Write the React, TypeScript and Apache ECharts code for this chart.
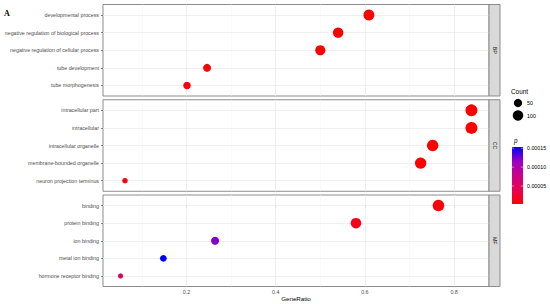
import React, { useEffect, useRef } from "react";
import * as echarts from "echarts";

// ---------- data ----------
const PANELS = ["BP", "CC", "MF"];

const BP_TERMS = [
  "developmental process",
  "negative regulation of biological process",
  "negative regulation of cellular process",
  "tube development",
  "tube morphogenesis",
];
const BP_RATIO = [0.609, 0.54, 0.5, 0.246, 0.201];
const BP_COUNT = [110, 97, 90, 44, 36];
const BP_P = [0.000003, 0.000003, 0.000003, 0.000004, 0.000005];

const CC_TERMS = [
  "intracellular part",
  "intracellular",
  "intracellular organelle",
  "membrane-bounded organelle",
  "neuron projection terminus",
];
const CC_RATIO = [0.839, 0.839, 0.752, 0.725, 0.062];
const CC_COUNT = [143, 143, 128, 123, 11];
const CC_P = [0.0000026, 0.0000026, 0.000003, 0.000003, 0.000008];

const MF_TERMS = [
  "binding",
  "protein binding",
  "ion binding",
  "metal ion binding",
  "hormone receptor binding",
];
const MF_RATIO = [0.765, 0.58, 0.264, 0.148, 0.052];
const MF_COUNT = [130, 99, 45, 25, 9];
const MF_P = [0.000005, 0.000015, 0.00012, 0.000153, 0.00005];

const X_TICKS = [0.2, 0.4, 0.6, 0.8];
const X_MINOR = [0.1, 0.3, 0.5, 0.7];
const COUNT_LEGEND = [50, 100];
const P_TICKS = [0.00005, 0.0001, 0.00015];
const P_TICK_LABELS = ["0.00005", "0.00010", "0.00015"];

// ---------- styling ----------
const FONT = "'Liberation Sans', Arial, Helvetica, sans-serif";
const PALETTE = ["#FF0000", "#E8004F", "#CA0089", "#9A00C3", "#0000FF"];
const GRID_LEFT = 103;
const GRID_W = 386;
const PANEL_TOPS = [4.5, 99.75, 195];
const PANEL_H = 91.5;

const sizeOf = (c: number) => 3 + 0.75 * Math.sqrt(c);

export default function App() {
  const ref = useRef<HTMLDivElement>(null);

  useEffect(() => {
    if (!ref.current) return;
    const chart = echarts.init(ref.current, undefined, { renderer: "svg" });

    const terms = [BP_TERMS, CC_TERMS, MF_TERMS];
    const ratios = [BP_RATIO, CC_RATIO, MF_RATIO];
    const counts = [BP_COUNT, CC_COUNT, MF_COUNT];
    const ps = [BP_P, CC_P, MF_P];

    const allR = ratios.flat();
    const rMin = Math.min(...allR);
    const rMax = Math.max(...allR);
    const exp = (rMax - rMin) * 0.05;
    const XMIN = rMin - exp;
    const XMAX = rMax + exp;

    const allP = ps.flat();
    const P_MIN = Math.min(...allP);
    const P_MAX = Math.max(...allP);

    const grids: any[] = [];
    const xAxes: any[] = [];
    const yAxes: any[] = [];
    const series: any[] = [];
    const scatterIdx: number[] = [];

    PANELS.forEach((_, i) => {
      const last = i === PANELS.length - 1;
      grids.push({
        left: GRID_LEFT,
        width: GRID_W,
        top: PANEL_TOPS[i],
        height: PANEL_H,
        show: true,
        backgroundColor: "#FFFFFF",
        borderColor: "#8C8C8C",
        borderWidth: 1,
        containLabel: false,
      });
      xAxes.push({
        type: "value",
        gridIndex: i,
        min: XMIN,
        max: XMAX,
        axisLine: { show: false },
        splitLine: { show: false },
        axisTick: {
          show: last,
          customValues: X_TICKS,
          length: 2,
          lineStyle: { color: "#333333", width: 0.6 },
        },
        axisLabel: {
          show: last,
          customValues: X_TICKS,
          formatter: (v: number) => v.toFixed(1),
          fontSize: 5.3,
          fontFamily: FONT,
          color: "#4D4D4D",
          margin: 3,
        },
        name: last ? "GeneRatio" : "",
        nameLocation: "middle",
        nameGap: 9,
        nameTextStyle: { fontSize: 6.2, fontFamily: FONT, color: "#000000" },
      });
      const names = terms[i];
      yAxes.push({
        type: "value",
        gridIndex: i,
        min: -0.6,
        max: names.length - 1 + 0.6,
        inverse: true,
        axisLine: { show: false },
        splitLine: { show: false },
        axisTick: {
          show: true,
          customValues: names.map((_, j) => j),
          length: 2,
          lineStyle: { color: "#333333", width: 0.6 },
        },
        axisLabel: {
          customValues: names.map((_, j) => j),
          formatter: (v: number) =>
            Number.isInteger(v) && names[v] !== undefined ? names[v] : "",
          fontSize: 5.3,
          fontFamily: FONT,
          color: "#4D4D4D",
          margin: 4,
        },
      });
      // grid lines (drawn through the axes)
      series.push({
        type: "scatter",
        xAxisIndex: i,
        yAxisIndex: i,
        data: [],
        z: 1,
        silent: true,
        markLine: {
          silent: true,
          z: 1,
          symbol: ["none", "none"],
          label: { show: false },
          emphasis: { disabled: true },
          data: [
            ...X_MINOR.map((v) => ({
              xAxis: v,
              lineStyle: { color: "#F4F4F4", width: 0.5, type: "solid" },
            })),
            ...X_TICKS.map((v) => ({
              xAxis: v,
              lineStyle: { color: "#EBEBEB", width: 0.8, type: "solid" },
            })),
            ...names.map((_, j) => ({
              yAxis: j,
              lineStyle: { color: "#EBEBEB", width: 0.8, type: "solid" },
            })),
          ],
        },
      });
      scatterIdx.push(series.length);
      series.push({
        type: "scatter",
        xAxisIndex: i,
        yAxisIndex: i,
        z: 3,
        data: names.map((_, j) => [ratios[i][j], j, counts[i][j], ps[i][j]]),
        symbolSize: (v: number[]) => sizeOf(v[2]),
        itemStyle: { opacity: 1 },
        emphasis: { disabled: true },
      });
    });

    // ---------- graphic: strips, legends, label ----------
    const graphic: any[] = [];
    graphic.push({
      type: "text",
      x: 4,
      y: 13,
      style: {
        text: "A",
        font: "bold 8px 'Liberation Serif', 'DejaVu Serif', serif",
        fill: "#000",
        textVerticalAlign: "middle",
      },
    });
    PANELS.forEach((lab, i) => {
      graphic.push({
        type: "rect",
        shape: { x: GRID_LEFT + GRID_W, y: PANEL_TOPS[i], width: 11, height: PANEL_H },
        style: { fill: "#D9D9D9", stroke: "#8C8C8C", lineWidth: 1 },
        z: 10,
      });
      graphic.push({
        type: "text",
        x: GRID_LEFT + GRID_W + 5.5,
        y: PANEL_TOPS[i] + PANEL_H / 2,
        rotation: -Math.PI / 2,
        style: {
          text: lab,
          fontSize: 5.3,
          fontFamily: FONT,
          fill: "#1A1A1A",
          textAlign: "center",
          textVerticalAlign: "middle",
        },
        z: 11,
      });
    });

    // Count legend
    graphic.push({
      type: "text",
      x: 511,
      y: 91,
      style: {
        text: "Count",
        fontSize: 6.4,
        fontFamily: FONT,
        fill: "#000",
        textVerticalAlign: "middle",
      },
    });
    const legY = [103, 115.5];
    COUNT_LEGEND.forEach((c, k) => {
      graphic.push({
        type: "circle",
        shape: { cx: 518, cy: legY[k], r: sizeOf(c) / 2 },
        style: { fill: "#000" },
      });
      graphic.push({
        type: "text",
        x: 527,
        y: legY[k],
        style: {
          text: String(c),
          fontSize: 5.3,
          fontFamily: FONT,
          fill: "#000",
          textVerticalAlign: "middle",
        },
      });
    });

    // p colorbar
    graphic.push({
      type: "text",
      x: 514,
      y: 140,
      style: {
        text: "p",
        font: `italic 6.4px ${FONT}`,
        fill: "#000",
        textVerticalAlign: "middle",
      },
    });
    const barX = 512;
    const barY = 147;
    const barW = 11;
    const barH = 57;
    graphic.push({
      type: "rect",
      shape: { x: barX, y: barY, width: barW, height: barH },
      style: {
        fill: new echarts.graphic.LinearGradient(
          0,
          1,
          0,
          0,
          PALETTE.map((c, k) => ({ offset: k / (PALETTE.length - 1), color: c }))
        ),
      },
    });
    P_TICKS.forEach((v, k) => {
      const y = barY + barH - ((v - P_MIN) / (P_MAX - P_MIN)) * barH;
      graphic.push({
        type: "line",
        shape: { x1: barX, y1: y, x2: barX + 2.2, y2: y },
        style: { stroke: "#FFFFFF", lineWidth: 0.5 },
        z: 12,
      });
      graphic.push({
        type: "line",
        shape: { x1: barX + barW - 2.2, y1: y, x2: barX + barW, y2: y },
        style: { stroke: "#FFFFFF", lineWidth: 0.5 },
        z: 12,
      });
      graphic.push({
        type: "text",
        x: 527,
        y,
        style: {
          text: P_TICK_LABELS[k],
          fontSize: 5.3,
          fontFamily: FONT,
          fill: "#000",
          textVerticalAlign: "middle",
        },
      });
    });

    chart.setOption({
      animation: false,
      backgroundColor: "#FFFFFF",
      grid: grids,
      xAxis: xAxes,
      yAxis: yAxes,
      visualMap: {
        type: "continuous",
        show: false,
        min: P_MIN,
        max: P_MAX,
        dimension: 3,
        seriesIndex: scatterIdx,
        inRange: { color: PALETTE },
      },
      series,
      graphic,
    });

    return () => chart.dispose();
  }, []);

  return (
    <div
      ref={ref}
      style={{ position: "fixed", left: 0, top: 0, width: 550, height: 304 }}
    />
  );
}
